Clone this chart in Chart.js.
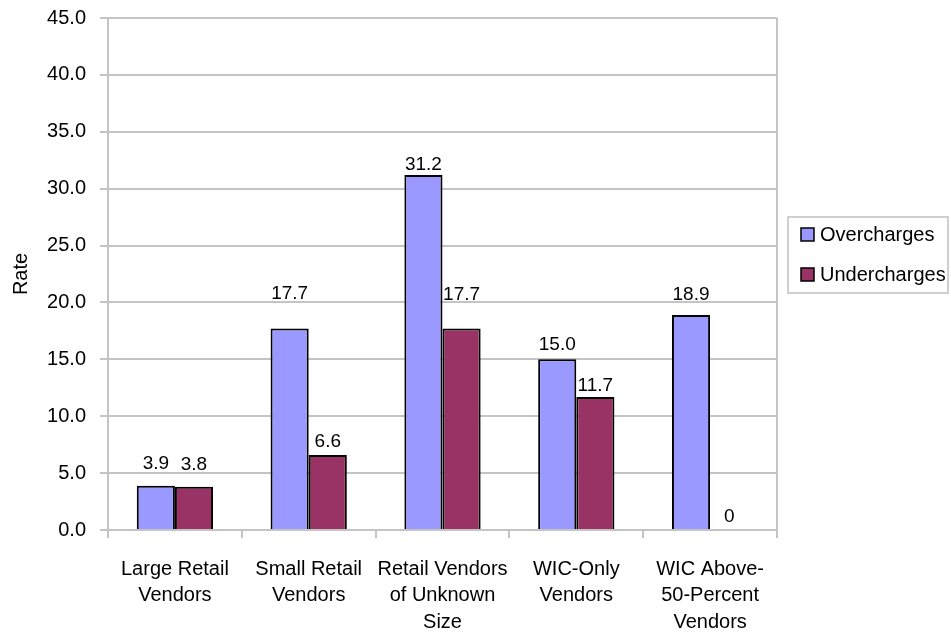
<!DOCTYPE html>
<html>
<head>
<meta charset="utf-8">
<title>Overcharge and Undercharge Rates by Vendor Type</title>
<script src="https://cdn.jsdelivr.net/npm/chart.js@4.4.1/dist/chart.umd.min.js"></script>
<style>
  html, body { margin: 0; padding: 0; background: #fff; }
  #wrap { width: 951px; height: 635px; }
</style>
</head>
<body>
<div id="wrap"><canvas id="rateChart" width="951" height="635"></canvas></div>
<script>
// Vendor categories (multi-line axis labels)
const categories = [
  ['Large Retail', 'Vendors'],
  ['Small Retail', 'Vendors'],
  ['Retail Vendors', 'of Unknown', 'Size'],
  ['WIC-Only', 'Vendors'],
  ['WIC Above-', '50-Percent', 'Vendors']
];
const seriesNames = ['Overcharges', 'Undercharges'];
const overcharges = [3.9, 17.7, 31.2, 15.0, 18.9];
const undercharges = [3.8, 6.6, 17.7, 11.7, 0];
const yMin = 0, yMax = 45, yStep = 5;

const FONT = '"Liberation Sans", Arial, sans-serif';
const GRID = '#c4c4c4';

// gap (px) between bar top and the value label baseline, per series
const labelLift = [
  [17, 30, 5, 9, 15],
  [17, 8, 29, 6, 8]
];

const valueLabels = {
  id: 'valueLabels',
  afterDatasetsDraw(chart) {
    const ctx = chart.ctx;
    ctx.save();
    ctx.font = '19px ' + FONT;
    ctx.fillStyle = '#000';
    ctx.textAlign = 'center';
    ctx.textBaseline = 'alphabetic';
    chart.data.datasets.forEach((ds, di) => {
      const meta = chart.getDatasetMeta(di);
      meta.data.forEach((bar, i) => {
        const v = ds.data[i];
        const txt = v === 0 ? '0' : v.toFixed(1);
        ctx.fillText(txt, bar.x, bar.y - labelLift[di][i]);
      });
    });
    ctx.restore();
  }
};

// right edge of the plot frame + boxed legend
const frameAndLegend = {
  id: 'frameAndLegend',
  afterDraw(chart) {
    const ctx = chart.ctx;
    const a = chart.chartArea;
    ctx.save();
    ctx.strokeStyle = GRID;
    ctx.lineWidth = 2;
    ctx.beginPath();
    ctx.moveTo(a.right, a.top);
    ctx.lineTo(a.right, a.bottom);
    ctx.stroke();

    // legend box
    ctx.lineWidth = 1.5;
    ctx.strokeStyle = '#c0c0c0';
    ctx.strokeRect(788, 217, 160, 76);
    ctx.font = '20px ' + FONT;
    ctx.textAlign = 'left';
    ctx.textBaseline = 'middle';
    chart.data.datasets.forEach((ds, i) => {
      const y = 228 + i * 40;
      ctx.fillStyle = ds.backgroundColor;
      ctx.fillRect(801, y, 13, 13);
      ctx.strokeStyle = '#000';
      ctx.lineWidth = 1.5;
      ctx.strokeRect(801, y, 13, 13);
      ctx.fillStyle = '#000';
      ctx.fillText(ds.label, 820, y + 7);
    });
    ctx.restore();
  }
};

new Chart(document.getElementById('rateChart'), {
  type: 'bar',
  data: {
    labels: categories,
    datasets: [
      { label: seriesNames[0], data: overcharges, backgroundColor: '#9999ff' },
      { label: seriesNames[1], data: undercharges, backgroundColor: '#993366' }
    ]
  },
  options: {
    responsive: false,
    animation: false,
    devicePixelRatio: 1,
    layout: { padding: { top: 18, right: 174, left: 0, bottom: 0 } },
    datasets: {
      bar: {
        borderColor: '#000',
        borderWidth: 2,
        categoryPercentage: 0.57,
        barPercentage: 1.0
      }
    },
    plugins: {
      legend: { display: false },
      tooltip: { enabled: false }
    },
    scales: {
      x: {
        grid: { offset: true, drawOnChartArea: false, drawTicks: true, tickLength: 8, color: GRID, lineWidth: 2 },
        border: { color: GRID, width: 2 },
        ticks: { color: '#000', font: { family: FONT, size: 20, lineHeight: 1.32 }, padding: 18, maxRotation: 0, autoSkip: false },
        afterFit(scale) { scale.height = 105; }
      },
      y: {
        min: yMin,
        max: yMax,
        grid: { color: GRID, lineWidth: 2, tickLength: 8 },
        border: { color: GRID, width: 2 },
        ticks: {
          stepSize: yStep,
          color: '#000',
          font: { family: FONT, size: 20 },
          padding: 14,
          callback: v => v.toFixed(1)
        },
        title: { display: true, text: 'Rate', color: '#000', font: { family: FONT, size: 20 }, padding: { top: 9, bottom: 0 } },
        afterFit(scale) {
          scale.width = 108;
          scale.paddingTop = 0;
          scale.paddingBottom = 0;
        }
      }
    }
  },
  plugins: [valueLabels, frameAndLegend]
});
</script>
</body>
</html>
